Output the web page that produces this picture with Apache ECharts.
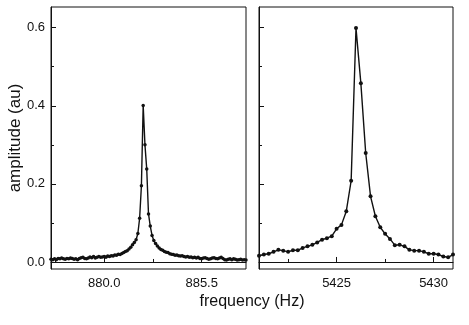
<!DOCTYPE html>
<html>
<head>
<meta charset="utf-8">
<script src="https://cdn.jsdelivr.net/npm/echarts@6/dist/echarts.min.js"></script>
<style>
  html, body { margin: 0; padding: 0; background: #fff; }
  #chart { width: 469px; height: 325px; }
</style>
</head>
<body>
<div id="chart"></div>
<script>
// low mode, 877.0 .. 888.0 Hz, step 0.1
const lowStart = 877.0, lowStep = 0.1;
const lowAmp = [
  0.007, 0.006, 0.008, 0.006, 0.009, 0.008, 0.010, 0.008, 0.007, 0.009,
  0.008, 0.010, 0.009, 0.007, 0.008, 0.006, 0.009, 0.011, 0.012, 0.009,
  0.008, 0.010, 0.013, 0.011, 0.014, 0.010, 0.012, 0.014, 0.012, 0.013,
  0.014, 0.012, 0.015, 0.014, 0.016, 0.015, 0.018, 0.017, 0.020, 0.019,
  0.022, 0.024, 0.027, 0.029, 0.033, 0.038, 0.044, 0.050, 0.057, 0.073,
  0.112, 0.195, 0.401, 0.300, 0.238, 0.123, 0.092, 0.068, 0.055, 0.047,
  0.041, 0.036, 0.032, 0.030, 0.027, 0.025, 0.024, 0.021, 0.020, 0.019,
  0.017, 0.018, 0.016, 0.015, 0.016, 0.014, 0.013, 0.014, 0.012, 0.013,
  0.011, 0.012, 0.010, 0.012, 0.009, 0.008, 0.010, 0.011, 0.009, 0.007,
  0.008, 0.010, 0.011, 0.009, 0.008, 0.010, 0.012, 0.009, 0.006, 0.005,
  0.007, 0.008, 0.006, 0.008, 0.007, 0.005, 0.006, 0.007, 0.005, 0.006,
  0.005
];

// high mode, 5421.0 .. 5431.0 Hz, step 0.25
const highStart = 5421.0, highStep = 0.25;
const highAmp = [
  0.016, 0.019, 0.021, 0.026, 0.031, 0.029, 0.026, 0.030, 0.030, 0.036,
  0.040, 0.044, 0.050, 0.057, 0.061, 0.066, 0.085, 0.095, 0.130, 0.208,
  0.599, 0.458, 0.279, 0.168, 0.117, 0.089, 0.072, 0.059, 0.043, 0.044,
  0.040, 0.031, 0.029, 0.029, 0.026, 0.021, 0.021, 0.019, 0.014, 0.012,
  0.019
];

const yMajor = [0, 0.2, 0.4, 0.6];
const yMinor = [0.1, 0.3, 0.5];
const lowMajor = [880.0, 885.5];
const lowMinor = [877.25, 882.75];
const highMajor = [5425, 5430];
const highMinor = [5422.5, 5427.5];

const toPairs = (start, step, arr) =>
  arr.map((v, i) => [+(start + i * step).toFixed(2), v]);

const chart = echarts.init(document.getElementById('chart'), null, { renderer: 'canvas' });

const font = 'Liberation Sans, Arial, sans-serif';
const ink = '#111';
const yMin = -0.018, yMax = 0.653;

// value axis that only draws ticks (and maybe labels / line)
function axis(kind, grid, min, max, ticks, len, labels, fmt, showLine) {
  return {
    type: 'value', gridIndex: grid, min: min, max: max,
    position: kind === 'x' ? 'bottom' : 'left',
    splitLine: { show: false },
    axisLine: { show: !!showLine, lineStyle: { color: ink, width: 1 } },
    axisTick: { show: true, inside: true, length: len, customValues: ticks,
      lineStyle: { color: ink, width: 1 } },
    axisLabel: { show: !!labels, customValues: labels || [], formatter: fmt,
      color: ink, fontFamily: font, fontSize: 13, margin: kind === 'x' ? 8 : 6 }
  };
}

const fmt1 = v => Number(v).toFixed(1);
const fmt0 = v => Number(v).toFixed(0);

const option = {
  animation: false,
  backgroundColor: '#fff',
  grid: [
    { left: 51, top: 7, width: 195, height: 262, show: true, borderColor: ink, borderWidth: 1 },
    { left: 259, top: 7, width: 194, height: 262, show: true, borderColor: ink, borderWidth: 1 }
  ],
  xAxis: [
    axis('x', 0, 877.0, 888.0, lowMajor, 5, lowMajor, fmt1, true),
    axis('x', 0, 877.0, 888.0, lowMinor, 3, null, null, false),
    axis('x', 1, 5421.0, 5431.0, highMajor, 5, highMajor, fmt0, true),
    axis('x', 1, 5421.0, 5431.0, highMinor, 3, null, null, false)
  ],
  yAxis: [
    axis('y', 0, yMin, yMax, yMajor, 5, yMajor, fmt1, true),
    axis('y', 0, yMin, yMax, yMinor, 3, null, null, false),
    axis('y', 1, yMin, yMax, yMajor, 5, null, null, true),
    axis('y', 1, yMin, yMax, yMinor, 3, null, null, false)
  ],
  series: [
    {
      type: 'line', xAxisIndex: 0, yAxisIndex: 0,
      data: toPairs(lowStart, lowStep, lowAmp),
      symbol: 'circle', symbolSize: 3.5, showAllSymbol: true,
      lineStyle: { color: ink, width: 1.4 },
      itemStyle: { color: ink }
    },
    {
      type: 'line', xAxisIndex: 2, yAxisIndex: 2,
      data: toPairs(highStart, highStep, highAmp),
      symbol: 'circle', symbolSize: 4, showAllSymbol: true,
      lineStyle: { color: ink, width: 1.4 },
      itemStyle: { color: ink }
    }
  ],
  graphic: [
    {
      type: 'text', x: 15, y: 138, rotation: Math.PI / 2,
      style: { text: 'amplitude (au)', fill: ink, font: '17px ' + font,
        align: 'center', verticalAlign: 'middle' }
    },
    {
      type: 'text', x: 252, y: 302,
      style: { text: 'frequency (Hz)', fill: ink, font: '16px ' + font,
        align: 'center', verticalAlign: 'middle' }
    }
  ]
};

chart.setOption(option);
</script>
</body>
</html>
